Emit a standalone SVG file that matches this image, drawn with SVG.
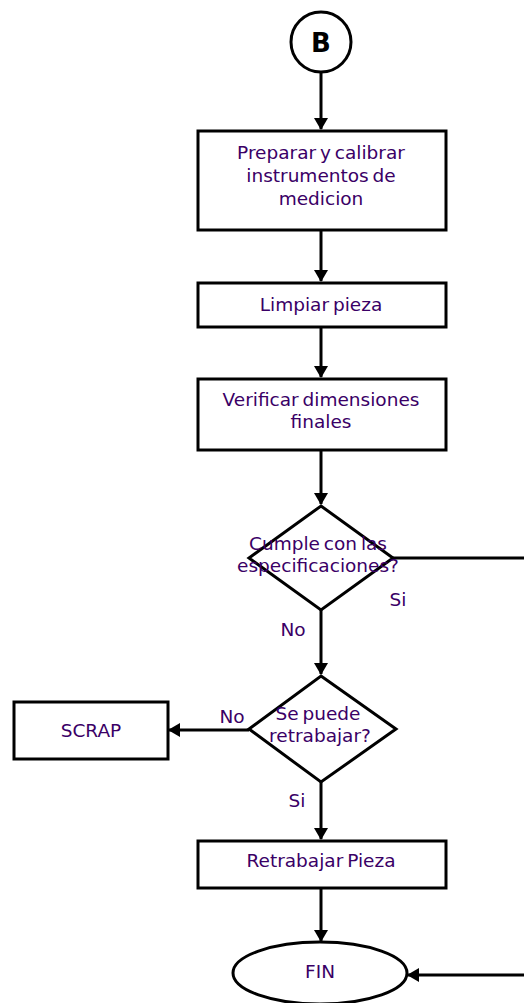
<svg xmlns="http://www.w3.org/2000/svg" width="524" height="1003" viewBox="0 0 524 1003">
<style>
.s{fill:#fff;stroke:#000;stroke-width:3}
.t{font-family:"DejaVu Sans",sans-serif;font-size:18.5px;fill:#3a0066;text-anchor:middle;word-spacing:-2px}
.l{fill:none;stroke:#000;stroke-width:3}
</style>
<defs>
<marker id="ah" markerWidth="12" markerHeight="14" refX="11" refY="7" orient="auto" markerUnits="userSpaceOnUse">
<path d="M0,0 L12,7 L0,14 Z" fill="#000"/>
</marker>
</defs>
<rect width="524" height="1003" fill="#fff"/>
<g id="connectors">
<line class="l" x1="321" y1="72" x2="321" y2="129" marker-end="url(#ah)"/>
<line class="l" x1="321" y1="230" x2="321" y2="281" marker-end="url(#ah)"/>
<line class="l" x1="321" y1="327" x2="321" y2="377" marker-end="url(#ah)"/>
<line class="l" x1="321" y1="450" x2="321" y2="504" marker-end="url(#ah)"/>
<line class="l" x1="393" y1="558" x2="524" y2="558"/>
<line class="l" x1="321" y1="610" x2="321" y2="674" marker-end="url(#ah)"/>
<line class="l" x1="249" y1="730" x2="169" y2="730" marker-end="url(#ah)"/>
<line class="l" x1="321" y1="782" x2="321" y2="839" marker-end="url(#ah)"/>
<line class="l" x1="321" y1="888" x2="321" y2="941" marker-end="url(#ah)"/>
<line class="l" x1="524" y1="975" x2="408" y2="975" marker-end="url(#ah)"/>
<text class="t" x="398" y="606">Si</text>
<text class="t" x="293" y="636">No</text>
<text class="t" x="232" y="723">No</text>
<text class="t" x="297" y="807">Si</text>
</g>
<g id="start">
<circle class="s" cx="321" cy="42" r="30"/>
<text x="321" y="52" font-family="DejaVu Sans,sans-serif" font-weight="bold" font-size="26" text-anchor="middle" fill="#000">B</text>
</g>
<g id="prep">
<rect class="s" x="198" y="131" width="248" height="99"/>
<text class="t" x="321" y="159">Preparar y calibrar</text>
<text class="t" x="321" y="182">instrumentos de</text>
<text class="t" x="321" y="205">medicion</text>
</g>
<g id="limpiar">
<rect class="s" x="198" y="283" width="248" height="44"/>
<text class="t" x="321" y="311">Limpiar pieza</text>
</g>
<g id="verificar">
<rect class="s" x="198" y="379" width="248" height="71"/>
<text class="t" x="321" y="406">Verificar dimensiones</text>
<text class="t" x="321" y="428">finales</text>
</g>
<g id="cumple">
<polygon class="s" points="321,506 393,558 321,610 249,558"/>
<text class="t" x="318" y="550">Cumple con las</text>
<text class="t" x="318" y="572">especificaciones?</text>
</g>
<g id="retrabajar-q">
<polygon class="s" points="321,676 396,729 321,782 249,729"/>
<text class="t" x="318" y="720">Se puede</text>
<text class="t" x="320" y="742">retrabajar?</text>
</g>
<g id="scrap">
<rect class="s" x="14" y="702" width="154" height="57"/>
<text class="t" x="91" y="737">SCRAP</text>
</g>
<g id="retrabajar">
<rect class="s" x="198" y="841" width="248" height="47"/>
<text class="t" x="321" y="867">Retrabajar Pieza</text>
</g>
<g id="fin">
<ellipse class="s" cx="320" cy="973" rx="87" ry="31"/>
<text class="t" x="320" y="978">FIN</text>
</g>
</svg>
